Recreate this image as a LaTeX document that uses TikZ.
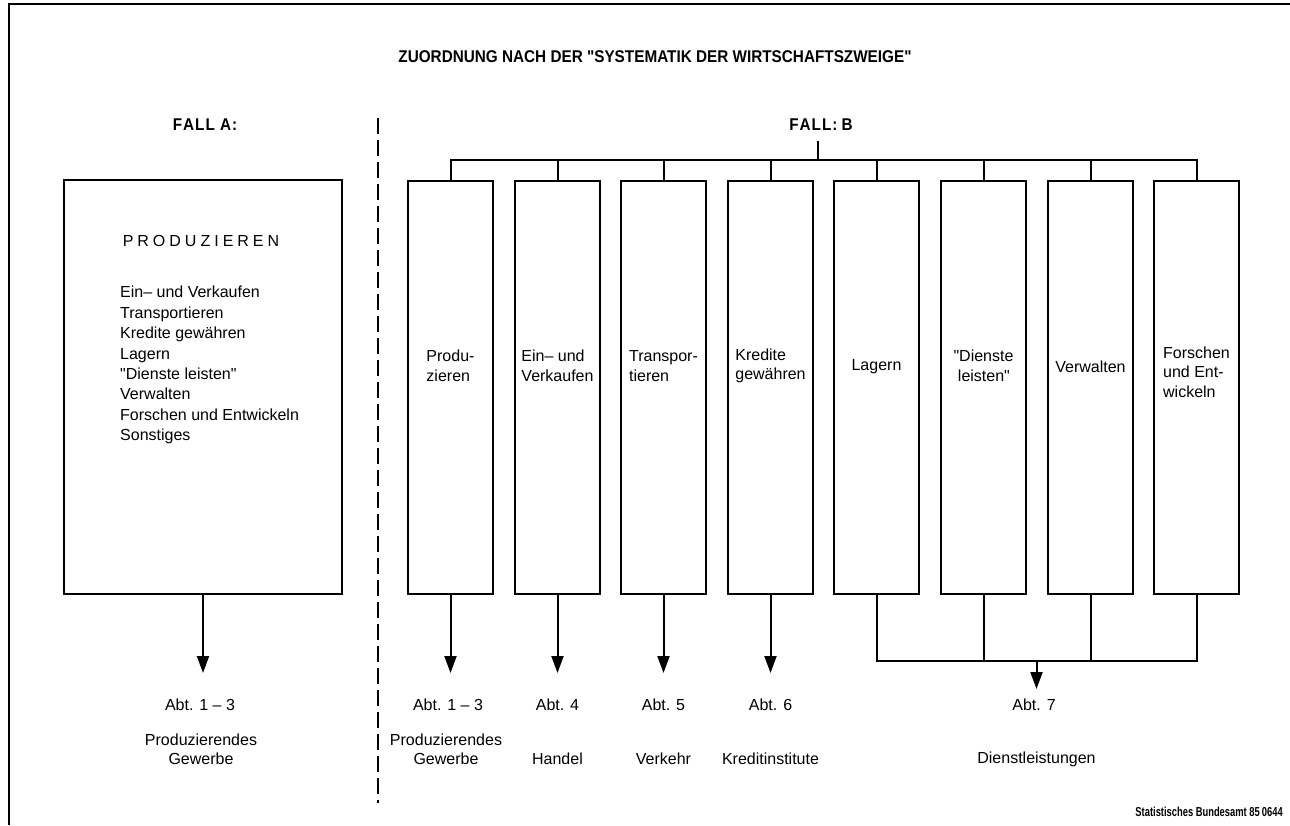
\documentclass[tikz,border=0pt]{standalone}
\usepackage{fontspec}
\setmainfont{Liberation Sans}[Ligatures=TeXOff]
\newfontfamily\titlef{Liberation Sans}[FakeStretch=0.9]
\newfontfamily\footf{Liberation Sans}[FakeStretch=0.72]
\usetikzlibrary{arrows.meta}
\begin{document}
\begin{tikzpicture}[x=1pt,y=-1pt,
  frame/.style={line width=2.2pt},
  box/.style={draw, line width=2pt, inner sep=0pt, minimum width=85pt, minimum height=413pt},
  bigbox/.style={draw, line width=2pt, inner sep=0pt, minimum width=278pt, minimum height=414pt},
  conn/.style={line width=2pt},
  arr/.style={line width=2pt, -{Triangle[length=17pt,width=12pt]}},
  dashline/.style={line width=2pt, dash pattern=on 16pt off 6pt},
  lbl/.style={font=\fontsize{16}{19.5}\selectfont, align=left, inner sep=0pt},
  txt/.style={font=\fontsize{16}{19}\selectfont, align=center, inner sep=0pt},
  head/.style={font=\titlef\bfseries\fontsize{17}{20}\selectfont, inner sep=0pt},
  foot/.style={font=\footf\bfseries\fontsize{13}{15}\selectfont, inner sep=0pt}
]
\useasboundingbox (0,0) rectangle (1290,825);
% frame
\coordinate (fbl) at (9,825);
\coordinate (ftl) at (9,4);
\coordinate (ftr) at (1290,4);
\draw[frame] (fbl) -- (ftl) -- (ftr);

% title
\node[head] (title) at (655,57) {ZUORDNUNG NACH DER "SYSTEMATIK DER WIRTSCHAFTSZWEIGE"};

% dashed separator
\coordinate (dtop) at (378,118);
\coordinate (dbot) at (378,803);
\draw[dashline] (dtop) -- (dbot);

% ---------- Fall A ----------
\node[head] (fa) at (205,125) {F\kern1pt A\kern1pt L\kern1pt L\kern1pt\ A\kern1pt :};
\node[bigbox] (A) at (203,387) {};
\node[font=\fontsize{16}{19}\selectfont, inner sep=0pt] (prod) at (201,241) {P\hspace{4pt}R\hspace{4pt}O\hspace{4pt}D\hspace{4pt}U\hspace{4pt}Z\hspace{4pt}I\hspace{4pt}E\hspace{4pt}R\hspace{4pt}E\hspace{4pt}N};
\node[font=\fontsize{16}{20.4}\selectfont, align=left, inner sep=0pt, anchor=north west] (list) at (120,286)
  {Ein– und Verkaufen\\Transportieren\\Kredite gewähren\\Lagern\\"Dienste leisten"\\Verwalten\\Forschen und Entwickeln\\Sonstiges};
\coordinate (tA) at (203,673);
\draw[arr] (A.south) -- (tA);
\node[txt] (abtA) at (200,705) {Abt. 1 – 3};
\node[txt] (gewA) at (201,749.5) {Produzierendes\\Gewerbe};

% ---------- Fall B ----------
\node[head] (fb) at (821,125) {F\kern1pt A\kern1pt L\kern1pt L\kern1pt :\ B};
\coordinate (stub) at (818,141);
\coordinate (busy) at (0,160);

\node[box] (b1) at (450.5,387.5) {};
\node[box] (b2) at (557.5,387.5) {};
\node[box] (b3) at (663.5,387.5) {};
\node[box] (b4) at (770.5,387.5) {};
\node[box] (b5) at (876.5,387.5) {};
\node[box] (b6) at (983.5,387.5) {};
\node[box] (b7) at (1090.5,387.5) {};
\node[box] (b8) at (1196.5,387.5) {};

\draw[conn] (stub) -- (stub |- busy);
\draw[conn] (b1.north) -- (b1.north |- busy) -- (b8.north |- busy) -- (b8.north);
\foreach \b in {b2,b3,b4,b5,b6,b7}{
  \draw[conn] (\b.north) -- (\b.north |- busy);
}

\node[lbl] (l1) at (450.5,366) {Produ-\\zieren};
\node[lbl] (l2) at (557.5,366) {Ein– und\\Verkaufen};
\node[lbl] (l3) at (663.5,366) {Transpor-\\tieren};
\node[lbl] (l4) at (770.5,366) {Kredite\\gewähren};
\node[lbl] (l5) at (876.5,367) {Lagern};
\node[lbl] (l6) at (983.5,366) {"Dienste\\\ leisten"};
\node[lbl] (l7) at (1090.5,367) {Verwalten};
\node[lbl] (l8) at (1196.5,372) {Forschen\\und Ent-\\wickeln};

% arrows 1-4
\coordinate (t1) at (450.5,673);
\coordinate (t2) at (557.5,673);
\coordinate (t3) at (663.5,673);
\coordinate (t4) at (770.5,673);
\draw[arr] (b1.south) -- (t1);
\draw[arr] (b2.south) -- (t2);
\draw[arr] (b3.south) -- (t3);
\draw[arr] (b4.south) -- (t4);

% collector for 5-8
\coordinate (boty) at (0,661);
\draw[conn] (b5.south) -- (b5.south |- boty) -- (b8.south |- boty) -- (b8.south);
\draw[conn] (b6.south) -- (b6.south |- boty);
\draw[conn] (b7.south) -- (b7.south |- boty);
\coordinate (bm) at (1036.5,661);
\coordinate (t7) at (1036.5,689);
\draw[arr] (bm) -- (t7);

% bottom labels
\node[txt] (abt1) at (448,705) {Abt. 1 – 3};
\node[txt] (abt4) at (557.5,705) {Abt. 4};
\node[txt] (abt5) at (663.5,705) {Abt. 5};
\node[txt] (abt6) at (770.5,705) {Abt. 6};
\node[txt] (abt7) at (1034,705) {Abt. 7};
\node[txt] (n1) at (446,749.5) {Produzierendes\\Gewerbe};
\node[txt] (n4) at (557.5,759) {Handel};
\node[txt] (n5) at (663.5,759) {Verkehr};
\node[txt] (n6) at (770.5,759) {Kreditinstitute};
\node[txt] (n7) at (1036.5,759) {Dienstleistungen};

% footer
\node[foot, anchor=east] (src) at (1283,812) {Statistisches Bundesamt 85\,0644};
\end{tikzpicture}
\end{document}
